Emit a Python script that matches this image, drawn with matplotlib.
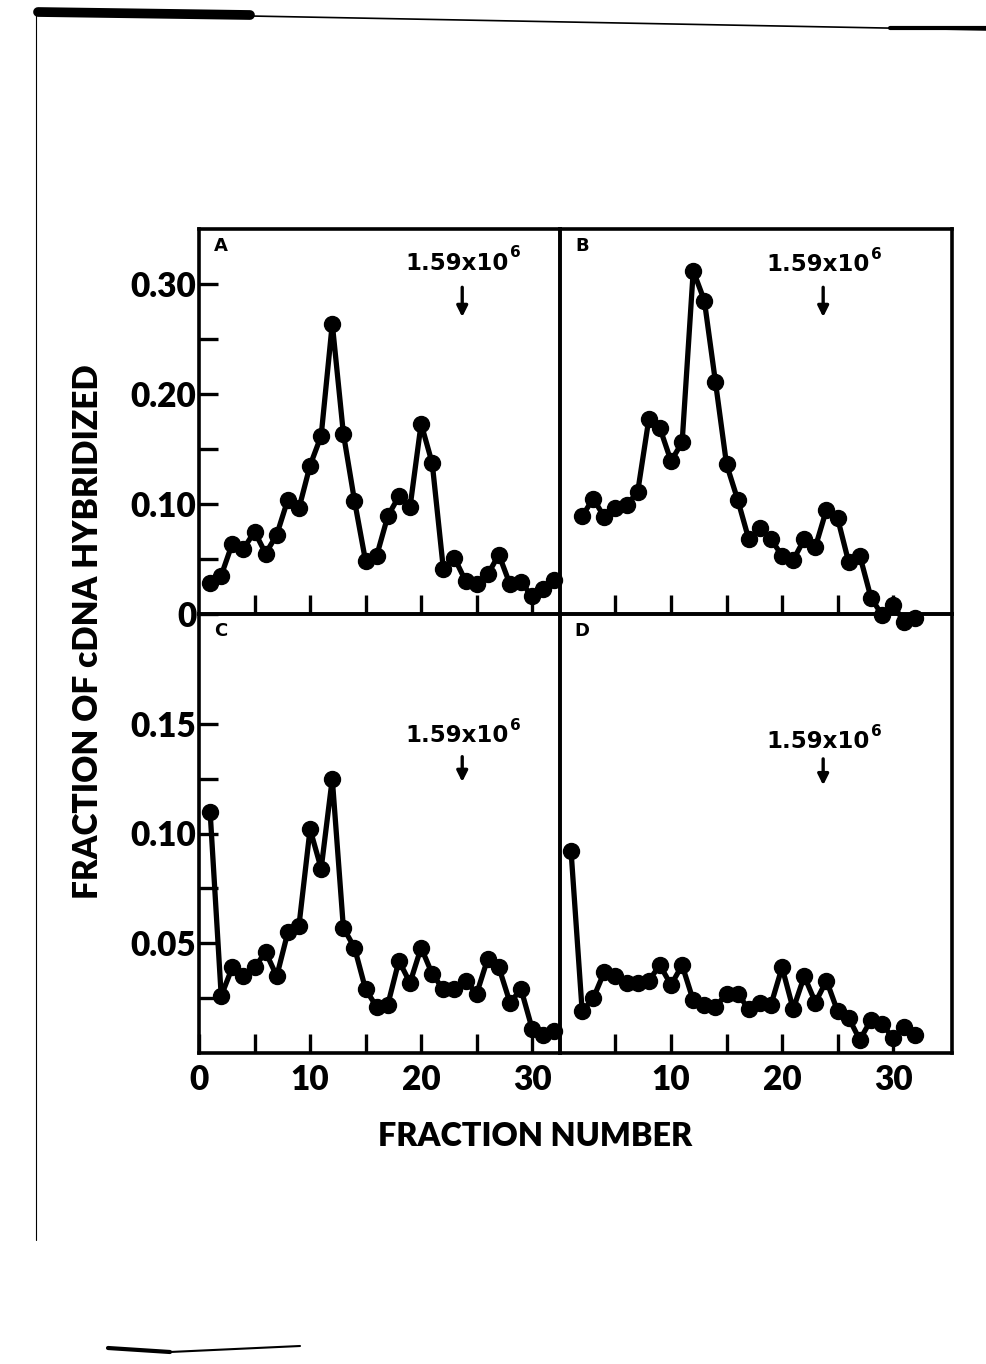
import matplotlib
matplotlib.use("Agg")
import matplotlib.pyplot as plt
from matplotlib.lines import Line2D

# ---------------- data ----------------
fractions_A = list(range(1, 33))
values_A = [0.028, 0.035, 0.064, 0.059, 0.075, 0.055, 0.072, 0.104, 0.096, 0.135,
            0.162, 0.264, 0.164, 0.103, 0.048, 0.053, 0.089, 0.107, 0.097, 0.173,
            0.137, 0.041, 0.051, 0.030, 0.027, 0.036, 0.054, 0.027, 0.029, 0.016,
            0.023, 0.031]

fractions_B = list(range(2, 33))
values_B = [0.089, 0.105, 0.088, 0.096, 0.099, 0.111, 0.177, 0.169, 0.139, 0.156,
            0.312, 0.285, 0.211, 0.136, 0.104, 0.068, 0.078, 0.068, 0.053, 0.049,
            0.068, 0.061, 0.095, 0.087, 0.047, 0.053, 0.015, -0.001, 0.008, -0.007,
            -0.004]

fractions_C = list(range(1, 33))
values_C = [0.110, 0.026, 0.039, 0.035, 0.039, 0.046, 0.035, 0.055, 0.058, 0.102,
            0.084, 0.125, 0.057, 0.048, 0.029, 0.021, 0.022, 0.042, 0.032, 0.048,
            0.036, 0.029, 0.029, 0.033, 0.027, 0.043, 0.039, 0.023, 0.029, 0.011,
            0.008, 0.010]

fractions_D = list(range(1, 33))
values_D = [0.092, 0.019, 0.025, 0.037, 0.035, 0.032, 0.032, 0.033, 0.040, 0.031,
            0.040, 0.024, 0.022, 0.021, 0.027, 0.027, 0.020, 0.023, 0.022, 0.039,
            0.020, 0.035, 0.023, 0.033, 0.019, 0.016, 0.006, 0.015, 0.013, 0.007,
            0.012, 0.008]

panel_letters = ["A", "B", "C", "D"]
marker_label = "1.59x10"
marker_exponent = "6"
marker_fraction = 23.7

top_yticks = [0, 0.10, 0.20, 0.30]
top_ylabels = ["0", "0.10", "0.20", "0.30"]
top_yminor = [0.05, 0.15, 0.25]
bot_yticks = [0.05, 0.10, 0.15]
bot_ylabels = ["0.05", "0.10", "0.15"]
bot_yminor = [0.025, 0.075, 0.125]
x_ticks_top = [5, 10, 15, 20, 25, 30]
xC_ticks = [0, 10, 20, 30]
xC_labels = ["0", "10", "20", "30"]
xD_ticks = [10, 20, 30]
xD_labels = ["10", "20", "30"]
x_minor = [5, 15, 25]

ylabel_text = "FRACTION OF cDNA HYBRIDIZED"
xlabel_text = "FRACTION NUMBER"

# ---------------- figure ----------------
FONT = ["Lato", "DejaVu Sans"]
HEAVY = ["DejaVu Sans"]
plt.rcParams["font.family"] = FONT

W, H = 987, 1364
fig = plt.figure(figsize=(W / 100, H / 100), dpi=100)
gs = fig.add_gridspec(2, 2, width_ratios=[32.5, 35.3], height_ratios=[385, 439],
                      left=199 / W, right=952 / W, top=1 - 229 / H, bottom=1 - 1053 / H,
                      wspace=0, hspace=0)
axA = fig.add_subplot(gs[0, 0])
axB = fig.add_subplot(gs[0, 1])
axC = fig.add_subplot(gs[1, 0])
axD = fig.add_subplot(gs[1, 1])

panels = [
    (axA, fractions_A, values_A, (0, 32.5), (0, 0.35), (0.319, 0.297, 0.270)),
    (axB, fractions_B, values_B, (0, 35.3), (0, 0.35), (0.318, 0.297, 0.270)),
    (axC, fractions_C, values_C, (0, 32.5), (0, 0.20), (0.1445, 0.135, 0.1235)),
    (axD, fractions_D, values_D, (0, 35.3), (0, 0.20), (0.142, 0.134, 0.122)),
]

tick_kw = dict(direction="in", length=14, width=2.4, labelsize=24, colors="black")

for (ax, xs, ys, xl, yl, ann), letter in zip(panels, panel_letters):
    ax.patch.set_visible(False)
    ax.plot(xs, ys, "-o", color="black", lw=3.8, ms=11.5, clip_on=False, zorder=5)
    ax.set_xlim(*xl)
    ax.set_ylim(*yl)
    for sp in ax.spines.values():
        sp.set_linewidth(2.6)
        sp.set_color("black")
    ax.tick_params(axis="both", which="both", **tick_kw)
    ax.tick_params(axis="x", which="both", pad=8)
    ax.tick_params(axis="y", which="both", pad=2)
    ax.tick_params(top=False, right=False)
    # panel letter
    ax.annotate(letter, xy=(0, 1), xycoords="axes fraction", xytext=(16, -12),
                textcoords="offset points", ha="center", va="center",
                fontsize=13, fontweight="bold", family=HEAVY)
    # molecular weight marker
    t = ax.text(marker_fraction - 0.5, ann[0], marker_label, ha="center", va="center",
                fontsize=16.5, fontweight="bold", family=HEAVY)
    ax.annotate(marker_exponent, xy=(1, 1), xycoords=t, xytext=(1, -1),
                textcoords="offset points", ha="left", va="center",
                fontsize=11, fontweight="bold", family=HEAVY)
    ax.annotate("", xy=(marker_fraction, ann[2]), xytext=(marker_fraction, ann[1]),
                arrowprops=dict(arrowstyle="-|>", color="black", lw=2.4,
                                mutation_scale=16, shrinkA=0, shrinkB=0))

# ticks for top row
for ax in (axA, axB):
    ax.set_xticks(x_ticks_top)
    ax.set_xticklabels([])
axA.set_yticks(top_yticks)
axA.set_yticklabels(top_ylabels, fontweight="heavy")
axA.set_yticks(top_yminor, minor=True)
axB.set_yticks([])

# bottom row
axC.set_yticks(bot_yticks)
axC.set_yticklabels(bot_ylabels, fontweight="heavy")
axC.set_yticks(bot_yminor, minor=True)
axC.set_xticks(xC_ticks)
axC.set_xticklabels(xC_labels, fontweight="heavy")
axC.set_xticks(x_minor, minor=True)
axD.set_yticks([])
axD.set_xticks(xD_ticks)
axD.set_xticklabels(xD_labels, fontweight="heavy")
axD.set_xticks(x_minor, minor=True)

# axis titles
fig.text(88 / W, 1 - 632 / H, ylabel_text, rotation=90, ha="center", va="center",
         fontsize=24, fontweight="heavy")
fig.text(535 / W, 1 - 1137 / H, xlabel_text, ha="center", va="center",
         fontsize=23.3, fontweight="heavy")

# scan-edge marks of the original page
def fline(x0, y0, x1, y1, lw):
    fig.add_artist(Line2D([x0 / W, x1 / W], [1 - y0 / H, 1 - y1 / H],
                          transform=fig.transFigure, color="black", lw=lw,
                          solid_capstyle="round"))

fline(38, 12, 250, 15, 7)
fline(250, 16, 990, 30, 1.2)
fline(890, 28, 987, 28, 3)
fline(36, 14, 36, 1240, 0.8)
fline(108, 1348, 170, 1352, 3)
fline(170, 1352, 300, 1346, 1.5)

fig.savefig("out.png", dpi=100, facecolor="white")
